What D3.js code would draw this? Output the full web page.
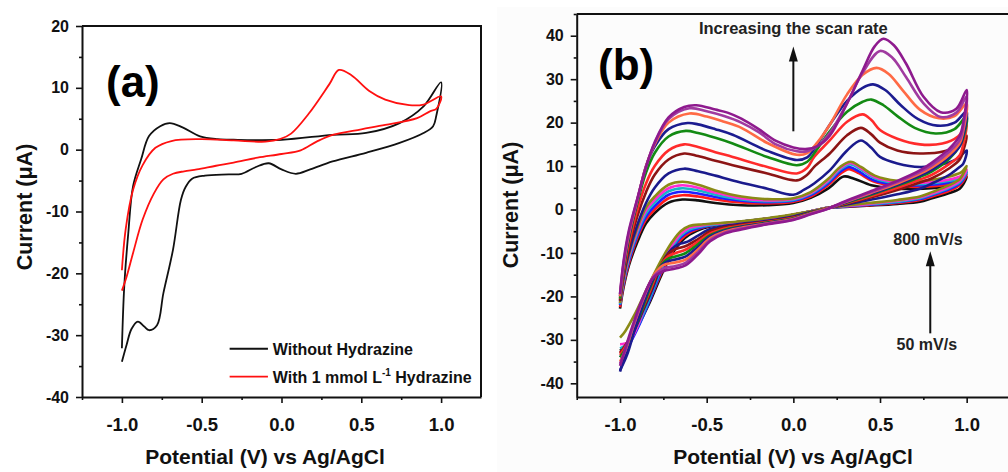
<!DOCTYPE html>
<html>
<head>
<meta charset="utf-8">
<script src="https://cdn.jsdelivr.net/npm/d3@7"></script>
<style>
  body { margin: 0; background: #fff; }
  svg { display: block; font-family: "Liberation Sans", Arial, sans-serif; font-weight: bold; }
</style>
</head>
<body>
<svg id="chart" width="1008" height="472"></svg>
<script>
// ---- Panel (a) data: potential (V), current (uA), forward sweep then reverse ----
const withoutHydrazine = [
  [-1.0,-32.1],[-0.985,-22],[-0.96,-13.5],[-0.93,-5.9],[-0.88,-1.6],[-0.83,2.2],[-0.76,3.8],[-0.7,4.3],
  [-0.62,3.6],[-0.51,2.15],[-0.4,1.7],[-0.3,1.6],[0.0,1.6],[0.32,2.4],[0.53,2.7],[0.74,4.3],[0.89,7.0],[1.0,10.9],
  [0.97,5.5],[0.95,3.8],[0.89,2.7],[0.74,1.1],[0.53,-0.5],[0.32,-1.9],[0.18,-3.2],[0.09,-3.9],[0.0,-3.2],
  [-0.08,-2.2],[-0.16,-2.8],[-0.25,-3.9],[-0.33,-4.0],[-0.48,-4.2],[-0.56,-4.7],[-0.6,-6],[-0.63,-8.1],
  [-0.68,-16.2],[-0.74,-23.2],[-0.78,-28.4],[-0.83,-29.2],[-0.86,-28.6],[-0.9,-27.8],[-0.94,-29],[-0.97,-31.5],[-1.0,-34.3]
];
const withHydrazine = [
  [-1.0,-19.5],[-0.976,-12.8],[-0.93,-6.5],[-0.87,-2.5],[-0.79,0.3],[-0.69,1.4],[-0.51,1.7],[-0.3,1.5],
  [-0.1,1.3],[-0.01,1.7],[0.06,2.6],[0.17,5.8],[0.3,10.6],[0.36,12.9],[0.44,12.0],[0.55,9.5],[0.65,8.1],
  [0.8,7.2],[0.89,7.3],[1.0,8.6],
  [0.97,6.6],[0.93,6.2],[0.85,5.1],[0.65,4.0],[0.5,3.3],[0.32,2.4],[0.22,1.3],[0.12,-0.1],[0.0,-0.7],
  [-0.15,-1.3],[-0.3,-2.1],[-0.41,-2.6],[-0.53,-3.2],[-0.61,-3.5],[-0.68,-3.9],[-0.74,-4.8],[-0.8,-7.1],
  [-0.87,-11.3],[-0.93,-16.7],[-0.97,-20.5],[-1.0,-22.8]
];
const legendLabels = ["Without Hydrazine", "With 1 mmol L", "-1", " Hydrazine"];

// ---- Panel (b) data: one CV per scan rate, slowest first ----
const cvBlack = [
  [-1.0,-22.8],[-0.98,-18],[-0.95,-13],[-0.9,-7.5],[-0.85,-3.2],[-0.8,-0.8],[-0.72,1.6],[-0.64,2.3],[-0.55,2.1],
  [-0.45,1.5],[-0.3,1.0],[-0.15,1.0],[0.0,1.5],[0.1,2.7],[0.2,4.8],[0.29,7.6],[0.35,7.1],[0.45,5.6],[0.6,4.8],
  [0.75,4.8],[0.9,5.3],[0.97,6.0],[1.0,7.5],
  [0.98,5.8],[0.96,4.8],[0.9,3.8],[0.8,2.6],[0.73,1.8],[0.6,1.3],[0.44,0.9],[0.3,0.6],[0.2,0.4],[0.1,-0.4],
  [0.0,-1.2],[-0.15,-2.1],[-0.3,-2.8],[-0.42,-3.4],[-0.52,-4.3],[-0.6,-5.8],[-0.65,-7.5],[-0.7,-10.2],
  [-0.76,-15],[-0.83,-21.5],[-0.9,-27],[-0.96,-31],[-1.0,-32.5]
];
const cvRed1 = [
  [-1.0,-22.5],[-0.98,-17.5],[-0.95,-12.5],[-0.9,-6.5],[-0.85,-2.3],[-0.8,0],[-0.72,2.6],[-0.64,3.3],[-0.55,3.0],
  [-0.45,2.3],[-0.3,1.6],[-0.15,1.4],[0.0,1.8],[0.1,3.0],[0.2,5.6],[0.27,8.2],[0.32,9.3],[0.38,8.3],[0.46,6.5],
  [0.6,5.4],[0.75,5.2],[0.9,5.8],[0.97,6.5],[1.0,8.0],
  [0.98,6.5],[0.96,5.6],[0.9,4.3],[0.8,3.0],[0.73,2.2],[0.6,1.5],[0.44,1.0],[0.3,0.7],[0.2,0.4],[0.1,-0.4],
  [0.0,-1.2],[-0.15,-2.1],[-0.3,-2.8],[-0.42,-3.3],[-0.52,-4.1],[-0.6,-5.4],[-0.65,-7.0],[-0.7,-9.8],
  [-0.76,-14.5],[-0.83,-21],[-0.9,-27],[-0.96,-31],[-1.0,-33]
];
const cvBlue1 = [
  [-1.0,-22],[-0.98,-17],[-0.95,-12],[-0.9,-6],[-0.85,-1.6],[-0.8,0.8],[-0.72,3.4],[-0.64,4.1],[-0.55,3.7],
  [-0.45,2.9],[-0.3,2.0],[-0.15,1.7],[0.0,2.0],[0.1,3.3],[0.2,6.0],[0.27,8.7],[0.32,9.8],[0.38,8.7],[0.46,6.8],
  [0.6,5.7],[0.75,5.6],[0.9,6.2],[0.97,7],[1.0,8.5],
  [0.98,6.9],[0.96,6.0],[0.9,4.7],[0.8,3.3],[0.73,2.4],[0.6,1.7],[0.44,1.1],[0.3,0.7],[0.2,0.4],[0.1,-0.4],
  [0.0,-1.2],[-0.15,-2.1],[-0.3,-2.8],[-0.42,-3.3],[-0.52,-4.0],[-0.6,-5.0],[-0.65,-6.4],[-0.7,-9.2],
  [-0.76,-14],[-0.83,-21],[-0.9,-27.5],[-0.96,-32],[-1.0,-34]
];
const cvCyan = [
  [-1.0,-21.8],[-0.98,-16.6],[-0.95,-11.5],[-0.9,-5.4],[-0.85,-0.9],[-0.8,1.6],[-0.72,4.2],[-0.64,4.9],[-0.55,4.4],
  [-0.45,3.4],[-0.3,2.3],[-0.15,1.9],[0.0,2.2],[0.1,3.6],[0.2,6.4],[0.27,9.2],[0.33,10.4],[0.39,9.2],[0.47,7.2],
  [0.6,6.0],[0.75,5.9],[0.9,6.6],[0.97,7.4],[1.0,8.8],
  [0.98,7.2],[0.96,6.3],[0.9,5.0],[0.8,3.5],[0.73,2.6],[0.6,1.8],[0.44,1.2],[0.3,0.8],[0.2,0.4],[0.1,-0.4],
  [0.0,-1.2],[-0.15,-2.1],[-0.3,-2.8],[-0.42,-3.3],[-0.52,-3.8],[-0.6,-4.6],[-0.65,-6.0],[-0.7,-8.8],
  [-0.76,-13.5],[-0.83,-20.5],[-0.9,-27],[-0.96,-31],[-1.0,-32]
];
const cvMagenta = [
  [-1.0,-21.5],[-0.98,-16.2],[-0.95,-11],[-0.9,-4.8],[-0.85,-0.2],[-0.8,2.3],[-0.72,4.9],[-0.64,5.6],[-0.55,5.0],
  [-0.45,3.9],[-0.3,2.6],[-0.15,2.1],[0.0,2.4],[0.1,3.8],[0.2,6.7],[0.27,9.5],[0.33,10.7],[0.39,9.5],[0.47,7.5],
  [0.6,6.3],[0.75,6.2],[0.9,6.9],[0.97,7.8],[1.0,9.2],
  [0.98,7.6],[0.96,6.6],[0.9,5.2],[0.8,3.7],[0.73,2.8],[0.6,2.0],[0.44,1.3],[0.3,0.8],[0.2,0.4],[0.1,-0.4],
  [0.0,-1.2],[-0.15,-2.1],[-0.3,-2.8],[-0.42,-3.2],[-0.52,-3.6],[-0.6,-4.2],[-0.65,-5.6],[-0.7,-8.2],
  [-0.76,-12.5],[-0.83,-19],[-0.89,-26],[-0.95,-30.5],[-1.0,-31]
];
const cvOlive = [
  [-1.0,-21.5],[-0.98,-16],[-0.95,-10.5],[-0.9,-4.2],[-0.85,0.5],[-0.8,3.0],[-0.72,5.7],[-0.64,6.4],[-0.55,5.7],
  [-0.45,4.4],[-0.3,3.0],[-0.15,2.4],[0.0,2.6],[0.1,4.0],[0.2,7.0],[0.27,9.8],[0.33,11.0],[0.39,9.8],[0.47,7.8],
  [0.6,6.6],[0.75,6.6],[0.9,7.6],[0.97,8.6],[1.0,10.0],
  [0.98,8.2],[0.96,7.0],[0.9,5.6],[0.8,4.0],[0.73,3.0],[0.6,2.2],[0.44,1.5],[0.3,0.9],[0.2,0.4],[0.1,-0.4],
  [0.0,-1.1],[-0.15,-2.0],[-0.3,-2.7],[-0.42,-3.1],[-0.52,-3.4],[-0.6,-3.8],[-0.65,-5.0],[-0.7,-7.5],
  [-0.76,-11.5],[-0.83,-17],[-0.92,-24.5],[-0.97,-28],[-1.0,-29.5]
];
const cvNavy1 = [
  [-1.0,-21],[-0.98,-15.5],[-0.95,-10],[-0.9,-3.5],[-0.85,1.5],[-0.8,5],[-0.72,8.3],[-0.63,9.4],[-0.55,8.8],
  [-0.45,7.8],[-0.35,6.7],[-0.15,4.8],[0.0,3.4],[0.06,4.5],[0.12,6.0],[0.21,9.0],[0.31,13.6],[0.39,15.9],
  [0.45,14.2],[0.5,12.1],[0.6,10.6],[0.73,9.8],[0.86,10.4],[0.95,11.8],[1.0,13.6],
  [0.98,10.5],[0.96,9.8],[0.9,8.0],[0.8,6.0],[0.73,4.8],[0.6,3.5],[0.44,2.2],[0.3,1.1],[0.2,0.3],[0.1,-0.6],
  [0.0,-1.6],[-0.15,-2.6],[-0.3,-3.3],[-0.4,-3.8],[-0.48,-4.5],[-0.55,-6.0],[-0.61,-7.4],[-0.66,-8.0],
  [-0.7,-9.0],[-0.75,-11.8],[-0.81,-18],[-0.88,-24.5],[-0.95,-31],[-1.0,-37.3]
];
const cvDarkRed = [
  [-1.0,-21],[-0.98,-15],[-0.95,-9],[-0.9,-1.5],[-0.85,4],[-0.8,8],[-0.72,11.5],[-0.63,12.9],[-0.55,12.3],
  [-0.45,11.2],[-0.35,10.2],[-0.15,8.3],[0.02,6.7],[0.08,8.0],[0.12,9.8],[0.21,12.9],[0.31,17.1],[0.39,18.8],
  [0.45,17.3],[0.5,15.4],[0.6,13.6],[0.73,12.9],[0.87,13.4],[0.95,14.8],[1.0,17],
  [0.98,13.5],[0.96,11.5],[0.9,9.5],[0.8,7.2],[0.73,6.2],[0.6,4.5],[0.44,2.7],[0.3,1.3],[0.2,0.3],[0.1,-0.7],
  [0.0,-1.8],[-0.15,-2.8],[-0.3,-3.5],[-0.4,-4.1],[-0.48,-5.0],[-0.55,-6.8],[-0.62,-8.4],[-0.67,-9.0],
  [-0.71,-9.8],[-0.76,-12.5],[-0.82,-18.5],[-0.89,-25],[-0.95,-30],[-1.0,-33]
];
const cvRed2 = [
  [-1.0,-20.5],[-0.98,-14.5],[-0.95,-8],[-0.9,0],[-0.85,6],[-0.8,10],[-0.72,13.6],[-0.63,15.0],[-0.55,14.4],
  [-0.45,13.2],[-0.35,12.1],[-0.15,9.8],[0.02,8.3],[0.08,9.6],[0.12,12.1],[0.21,15.9],[0.31,20.2],[0.4,21.9],
  [0.45,20.6],[0.5,18.3],[0.6,16.3],[0.73,15.0],[0.86,15.2],[0.95,16.8],[1.0,19.5],
  [0.98,15],[0.96,12.5],[0.9,10.5],[0.8,8.0],[0.73,6.9],[0.6,5.0],[0.44,3.0],[0.3,1.4],[0.2,0.3],[0.1,-0.8],
  [0.0,-1.9],[-0.15,-2.9],[-0.3,-3.7],[-0.4,-4.4],[-0.48,-5.5],[-0.55,-7.4],[-0.62,-9.2],[-0.67,-9.9],
  [-0.72,-10.7],[-0.77,-13.2],[-0.83,-19],[-0.9,-25.5],[-0.96,-31],[-1.0,-33.5]
];
const cvGreen = [
  [-1.0,-20.5],[-0.98,-14],[-0.95,-7],[-0.9,1.5],[-0.85,8.5],[-0.8,13],[-0.72,16.8],[-0.62,18.1],[-0.55,17.6],
  [-0.45,16.5],[-0.35,15.2],[-0.15,12.1],[0.02,10.2],[0.08,11],[0.13,13.5],[0.21,18],[0.31,22.5],[0.4,24.8],
  [0.45,25.3],[0.52,24],[0.6,21.5],[0.7,18.8],[0.82,17.5],[0.93,18.5],[1.0,21.5],
  [0.98,16.5],[0.96,14.6],[0.9,11.7],[0.8,8.8],[0.73,7.5],[0.6,5.5],[0.44,3.3],[0.3,1.5],[0.2,0.3],[0.1,-0.8],
  [0.0,-2.0],[-0.15,-3.0],[-0.3,-3.9],[-0.4,-4.7],[-0.48,-5.9],[-0.55,-8.0],[-0.62,-10.0],[-0.68,-10.8],
  [-0.73,-11.5],[-0.78,-13.8],[-0.84,-19.5],[-0.9,-26],[-0.96,-31.5],[-1.0,-34]
];
const cvNavy2 = [
  [-1.0,-20],[-0.98,-13.5],[-0.95,-6.5],[-0.9,2],[-0.85,10],[-0.8,14.5],[-0.72,18.5],[-0.61,19.9],[-0.55,19.6],
  [-0.45,18.5],[-0.35,17.2],[-0.15,13.5],[0.02,11.4],[0.08,12],[0.13,14.5],[0.21,19.5],[0.31,25],[0.4,28],
  [0.46,28.8],[0.53,27.5],[0.62,24],[0.72,20.8],[0.83,19.3],[0.93,20],[1.0,22.6],
  [0.98,17],[0.96,14.6],[0.9,12],[0.8,9.2],[0.73,7.8],[0.6,5.7],[0.44,3.5],[0.3,1.6],[0.2,0.3],[0.1,-0.9],
  [0.0,-2.1],[-0.15,-3.1],[-0.3,-4.0],[-0.4,-4.9],[-0.48,-6.2],[-0.55,-8.6],[-0.62,-10.8],[-0.68,-11.5],
  [-0.74,-12.2],[-0.79,-14.5],[-0.85,-20],[-0.91,-27],[-0.96,-33.5],[-1.0,-37]
];
const cvTomato = [
  [-1.0,-20],[-0.98,-13],[-0.95,-6],[-0.9,2.2],[-0.85,10],[-0.8,15],[-0.72,20],[-0.6,22.1],[-0.5,21.4],
  [-0.4,20.2],[-0.3,18.8],[-0.15,15.3],[0.02,12.6],[0.08,13],[0.14,15.5],[0.21,19.5],[0.31,26.5],[0.4,31],
  [0.48,32.6],[0.55,31.2],[0.63,27.5],[0.73,23],[0.84,21],[0.93,21.5],[1.0,24.4],
  [0.98,18],[0.96,15.3],[0.9,12.6],[0.8,9.7],[0.73,8.2],[0.6,6.0],[0.44,3.7],[0.3,1.7],[0.2,0.3],[0.1,-0.9],
  [0.0,-2.2],[-0.15,-3.2],[-0.3,-4.2],[-0.4,-5.1],[-0.48,-6.6],[-0.55,-9.2],[-0.62,-11.5],[-0.68,-12.2],
  [-0.75,-12.8],[-0.8,-14.8],[-0.86,-20],[-0.92,-26.5],[-0.97,-32.5],[-1.0,-35]
];
const cvPurple1 = [
  [-1.0,-19.5],[-0.98,-12.5],[-0.95,-5.5],[-0.9,2.4],[-0.85,9.8],[-0.8,15.3],[-0.72,20.8],[-0.6,23.3],[-0.5,22.6],
  [-0.4,21.5],[-0.3,20],[-0.2,17.8],[-0.1,15],[0.02,13.4],[0.08,13.4],[0.14,14.6],[0.21,17.6],[0.31,24.5],
  [0.4,31.5],[0.5,36.5],[0.57,35],[0.65,30.5],[0.75,24.5],[0.85,21.3],[0.94,22.3],[1.0,26],
  [0.98,19],[0.96,16],[0.9,13.3],[0.8,10.2],[0.73,8.6],[0.6,6.3],[0.44,3.9],[0.3,1.8],[0.2,0.2],[0.1,-1.0],
  [0.0,-2.3],[-0.15,-3.3],[-0.3,-4.4],[-0.4,-5.4],[-0.48,-7.0],[-0.55,-9.8],[-0.62,-12.2],[-0.68,-13.0],
  [-0.75,-13.6],[-0.81,-15.6],[-0.87,-20.8],[-0.93,-27.5],[-0.97,-32.5],[-1.0,-35.5]
];
const cvPurple2 = [
  [-1.0,-19.5],[-0.98,-12],[-0.95,-5],[-0.9,2.5],[-0.85,9.8],[-0.8,15.5],[-0.72,21.2],[-0.63,23.6],[-0.56,24],
  [-0.45,23],[-0.38,22.3],[-0.3,20.9],[-0.2,18.5],[-0.1,15.8],[0.0,14.3],[0.07,13.9],[0.14,14.6],[0.21,17],
  [0.3,23.6],[0.4,32],[0.47,37.6],[0.52,39.3],[0.58,37.8],[0.65,33.6],[0.75,26],[0.85,22.4],[0.94,23.2],[1.0,27.5],
  [0.98,20],[0.96,17],[0.9,14],[0.8,10.8],[0.73,9.0],[0.6,6.6],[0.44,4.1],[0.3,1.9],[0.2,0.2],[0.1,-1.1],
  [0.0,-2.4],[-0.15,-3.4],[-0.3,-4.6],[-0.4,-5.6],[-0.48,-7.3],[-0.55,-10.3],[-0.62,-12.8],[-0.68,-13.6],
  [-0.75,-14.2],[-0.81,-15.8],[-0.87,-20.5],[-0.93,-27],[-0.97,-32],[-1.0,-36]
];
const scanCurves = [cvBlack, cvRed1, cvBlue1, cvCyan, cvMagenta, cvOlive, cvNavy1, cvDarkRed,
                    cvRed2, cvGreen, cvNavy2, cvTomato, cvPurple1, cvPurple2];
const scanColors = ["#111111", "#ff1a1a", "#1f1fff", "#17b5c8", "#ff2bd0", "#8a8a16", "#1a1a8c", "#8c1414",
                    "#ff2a2a", "#138a13", "#1c1c90", "#ff6a45", "#a03aa0", "#8e1a8e"];

// ---- Axis ticks ----
const xTicks = [-1.0, -0.5, 0.0, 0.5, 1.0];
const xMinorTicks = [-1.25, -0.75, -0.25, 0.25, 0.75];
const yTicksA = [20, 10, 0, -10, -20, -30, -40];
const yMinorA = [15, 5, -5, -15, -25, -35];
const yTicksB = [40, 30, 20, 10, 0, -10, -20, -30, -40];
const yMinorB = [45, 35, 25, 15, 5, -5, -15, -25, -35];

const svg = d3.select("#chart");

// faint grey backdrop of the right-hand image
svg.append("rect")
  .attr("x", 497).attr("y", 7).attr("width", 511).attr("height", 465)
  .attr("fill", "#fcfcfc");

function drawPanel(opt) {
  const g = svg.append("g");
  const x = d3.scaleLinear().domain([-1.25, 1.25]).range(opt.xRange);
  const y = d3.scaleLinear().domain(opt.yDomain).range(opt.yRange);

  // frame (top and right)
  g.append("path")
    .attr("d", `M${opt.xRange[0]},${opt.yRange[1]}H${opt.xRange[1]}V${opt.yRange[0]}`)
    .attr("fill", "none").attr("stroke", "#111").attr("stroke-width", 2);

  // curves
  const line = d3.line()
    .x(d => x(d[0]))
    .y(d => y(d[1]))
    .curve(d3.curveCatmullRom.alpha(0.5));
  opt.curves.forEach((c, i) => {
    g.append("path")
      .attr("d", line(c))
      .attr("fill", "none")
      .attr("stroke", opt.colors[i])
      .attr("stroke-width", opt.lineWidth)
      .attr("stroke-linejoin", "round");
  });

  // x axis
  const xa = g.append("g")
    .attr("transform", `translate(0,${opt.yRange[0]})`)
    .call(d3.axisBottom(x).tickValues(xTicks).tickFormat(d => d.toFixed(1))
      .tickSize(6).tickSizeOuter(0).tickPadding(15));
  g.append("g")
    .attr("transform", `translate(0,${opt.yRange[0]})`)
    .call(d3.axisBottom(x).tickValues(xMinorTicks).tickFormat("").tickSize(3))
    .call(s => s.select(".domain").remove());

  // y axis
  const ya = g.append("g")
    .attr("transform", `translate(${opt.xRange[0]},0)`)
    .call(d3.axisLeft(y).tickValues(opt.yTicks).tickFormat(d => String(d))
      .tickSize(6).tickSizeOuter(0).tickPadding(7));
  g.append("g")
    .attr("transform", `translate(${opt.xRange[0]},0)`)
    .call(d3.axisLeft(y).tickValues(opt.yMinor).tickFormat("").tickSize(3))
    .call(s => s.select(".domain").remove());

  g.selectAll(".domain").attr("stroke", "#111").attr("stroke-width", 2);
  g.selectAll(".tick line").attr("stroke", "#111").attr("stroke-width", 1.6);
  xa.selectAll("text").attr("font-size", 18.5).attr("fill", "#111");
  ya.selectAll("text").attr("font-size", 16).attr("fill", "#111");
  xa.attr("font-family", null);
  ya.attr("font-family", null);

  // axis titles
  g.append("text")
    .attr("x", opt.xTitleX).attr("y", 464)
    .attr("text-anchor", "middle").attr("font-size", 21).attr("fill", "#111")
    .text("Potential (V) vs Ag/AgCl");
  g.append("text")
    .attr("transform", `translate(${opt.yTitleX},${opt.yTitleY}) rotate(-90)`)
    .attr("text-anchor", "middle").attr("font-size", 21.5).attr("fill", "#111")
    .text("Current (\u03bcA)");

  // panel letter
  g.append("text")
    .attr("x", opt.letterX).attr("y", opt.letterY)
    .attr("font-size", 44).attr("fill", "#000")
    .text(opt.letter);

  return {g, x, y};
}

// ---- Panel (a) ----
const pa = drawPanel({
  xRange: [82, 481], yDomain: [-40, 20], yRange: [397, 26],
  yTicks: yTicksA, yMinor: yMinorA,
  curves: [withoutHydrazine, withHydrazine], colors: ["#111111", "#ff1010"], lineWidth: 1.8,
  xTitleX: 265, yTitleX: 32, yTitleY: 207, letter: "(a)", letterX: 106, letterY: 97
});

// legend
[["#111111", -32.2], ["#ff1010", -36.7]].forEach((row, i) => {
  pa.g.append("line")
    .attr("x1", pa.x(-0.325)).attr("x2", pa.x(-0.085))
    .attr("y1", pa.y(row[1])).attr("y2", pa.y(row[1]))
    .attr("stroke", row[0]).attr("stroke-width", 1.8);
});
pa.g.append("text")
  .attr("x", pa.x(-0.055)).attr("y", pa.y(-32.2) + 6)
  .attr("font-size", 16).attr("fill", "#111")
  .text(legendLabels[0]);
const lt = pa.g.append("text")
  .attr("x", pa.x(-0.055)).attr("y", pa.y(-36.7) + 6)
  .attr("font-size", 16).attr("fill", "#111");
lt.append("tspan").text(legendLabels[1]);
lt.append("tspan").attr("font-size", 10).attr("dy", -7).text(legendLabels[2]);
lt.append("tspan").attr("dy", 7).text(legendLabels[3]);

// ---- Panel (b) ----
const pb = drawPanel({
  xRange: [576.7, 1010], yDomain: [-43.15, 45], yRange: [397, 14],
  yTicks: yTicksB, yMinor: yMinorB,
  curves: scanCurves, colors: scanColors, lineWidth: 2.6,
  xTitleX: 793, yTitleX: 518, yTitleY: 205, letter: "(b)", letterX: 598, letterY: 80
});

function arrow(g, x, yTail, yTip) {
  g.append("line")
    .attr("x1", x).attr("x2", x).attr("y1", yTail).attr("y2", yTip + 12)
    .attr("stroke", "#111").attr("stroke-width", 2);
  g.append("path")
    .attr("d", `M${x},${yTip}L${x - 4.5},${yTip + 15}L${x + 4.5},${yTip + 15}Z`)
    .attr("fill", "#111");
}

pb.g.append("text")
  .attr("x", pb.x(0.0)).attr("y", pb.y(40.4))
  .attr("text-anchor", "middle").attr("font-size", 16.5).attr("fill", "#222")
  .text("Increasing the scan rate");
arrow(pb.g, pb.x(0.0), pb.y(18), pb.y(37.5));

pb.g.append("text")
  .attr("x", pb.x(0.777)).attr("y", pb.y(-8.2))
  .attr("text-anchor", "middle").attr("font-size", 16).attr("fill", "#222")
  .text("800 mV/s");
pb.g.append("text")
  .attr("x", pb.x(0.77)).attr("y", pb.y(-32.3))
  .attr("text-anchor", "middle").attr("font-size", 16).attr("fill", "#222")
  .text("50 mV/s");
arrow(pb.g, pb.x(0.79), pb.y(-28.5), pb.y(-9.6));
</script>
</body>
</html>
